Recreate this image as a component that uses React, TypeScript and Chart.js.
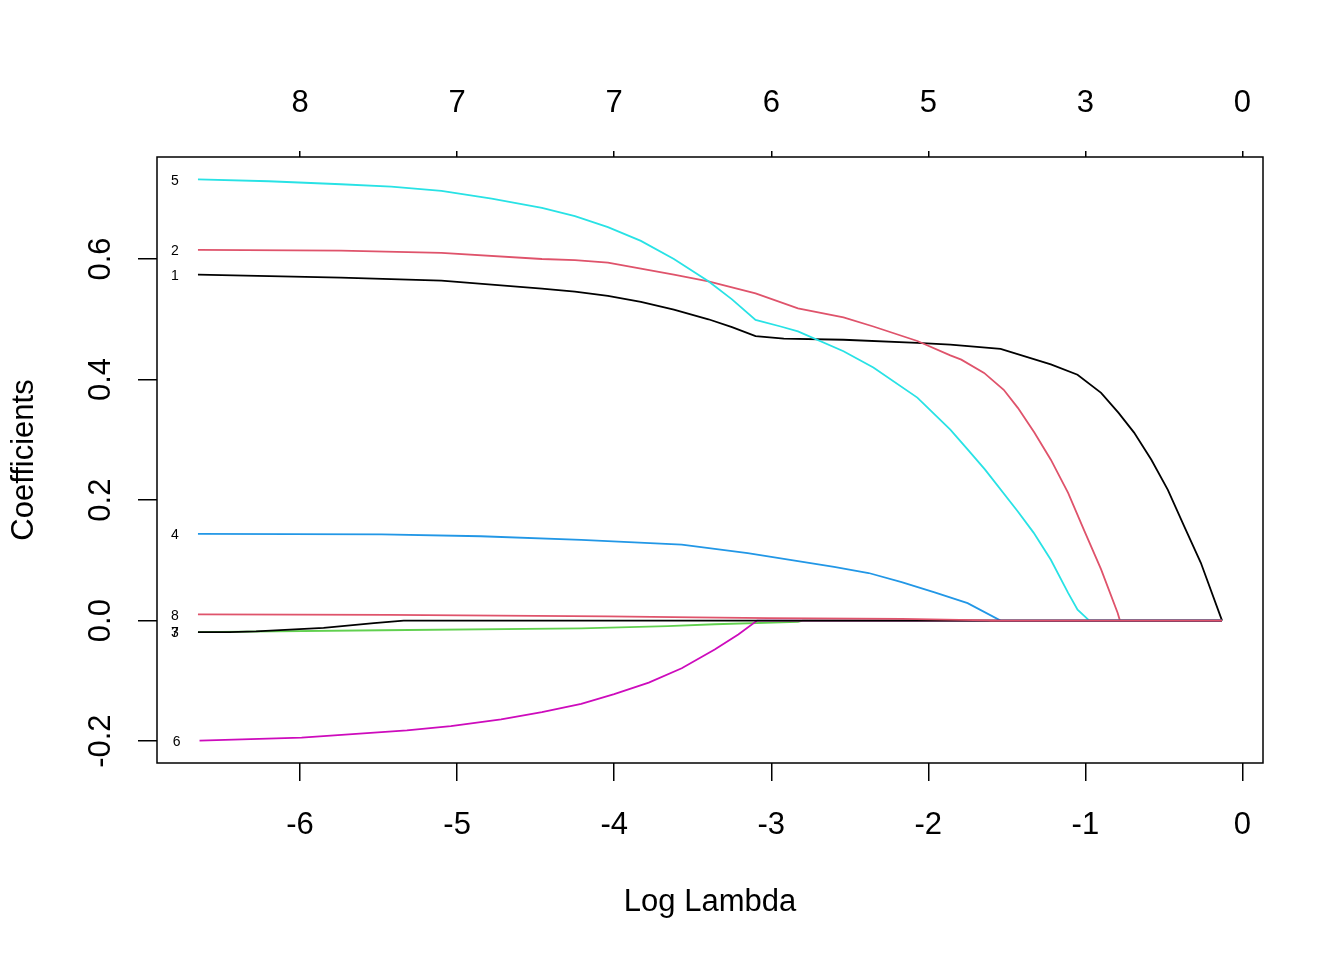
import React, { useEffect, useRef } from "react";
import { Chart, registerables } from "chart.js";

Chart.register(...registerables);

const FONT = "'Liberation Sans', Arial, sans-serif";

// Axis tick values / labels
const xTickValues = [-6, -5, -4, -3, -2, -1, 0];
const topTickLabels = ["8", "7", "7", "6", "5", "3", "0"];
const yTickValues = [-0.2, 0, 0.2, 0.4, 0.6];

const seriesNames = ["1", "2", "3", "4", "5", "6", "7", "8"];
const seriesColors = ["#000000", "#DF536B", "#61D04F", "#2297E6", "#28E2E5", "#CD0BBC", "#000000", "#DF536B"];

// Coefficient paths (log lambda, coefficient)
const lambda1 = [-6.65, -5.74, -5.10, -4.46, -4.25, -4.04, -3.83, -3.62, -3.40, -3.25, -3.10, -2.92, -2.54, -2.07, -1.86, -1.54, -1.22, -1.05, -0.90, -0.79, -0.69, -0.58, -0.475, -0.37, -0.265, -0.13];
const coef1 = [0.574, 0.569, 0.564, 0.551, 0.546, 0.539, 0.529, 0.516, 0.500, 0.487, 0.472, 0.468, 0.466, 0.461, 0.458, 0.451, 0.425, 0.408, 0.378, 0.345, 0.312, 0.267, 0.217, 0.156, 0.096, 0.0];

const lambda2 = [-6.65, -5.74, -5.10, -4.46, -4.25, -4.04, -3.83, -3.62, -3.40, -3.10, -2.83, -2.54, -2.35, -2.07, -1.86, -1.79, -1.645, -1.52, -1.43, -1.325, -1.22, -1.11, -1.01, -0.90, -0.795, -0.78, -0.13];
const coef2 = [0.615, 0.614, 0.610, 0.600, 0.598, 0.594, 0.584, 0.574, 0.563, 0.543, 0.518, 0.503, 0.488, 0.464, 0.440, 0.433, 0.411, 0.383, 0.353, 0.312, 0.267, 0.212, 0.151, 0.085, 0.013, 0.0, 0.0];

const lambda3 = [-6.65, -5.48, -4.21, -3.66, -3.36, -2.83, -2.80, -0.13];
const coef3 = [-0.019, -0.016, -0.013, -0.009, -0.006, -0.002, 0.0, 0.0];

const lambda4 = [-6.65, -5.48, -4.85, -4.21, -3.57, -3.15, -2.81, -2.60, -2.38, -2.17, -1.96, -1.75, -1.54, -0.13];
const coef4 = [0.144, 0.143, 0.140, 0.134, 0.126, 0.112, 0.098, 0.089, 0.079, 0.064, 0.047, 0.029, 0.0, 0.0];

const lambda5 = [-6.65, -6.20, -5.74, -5.42, -5.10, -4.78, -4.46, -4.25, -4.04, -3.83, -3.62, -3.40, -3.25, -3.10, -2.94, -2.83, -2.54, -2.35, -2.07, -1.86, -1.75, -1.64, -1.43, -1.33, -1.22, -1.11, -1.05, -0.975, -0.13];
const coef5 = [0.732, 0.729, 0.724, 0.720, 0.713, 0.700, 0.685, 0.671, 0.653, 0.630, 0.600, 0.563, 0.533, 0.499, 0.488, 0.480, 0.447, 0.420, 0.370, 0.317, 0.284, 0.251, 0.181, 0.146, 0.101, 0.046, 0.018, 0.0, 0.0];

const lambda6 = [-6.64, -5.99, -5.32, -5.04, -4.72, -4.46, -4.21, -4.00, -3.78, -3.57, -3.36, -3.21, -3.09, -0.13];
const coef6 = [-0.199, -0.194, -0.182, -0.175, -0.164, -0.152, -0.138, -0.122, -0.103, -0.079, -0.048, -0.023, 0.0, 0.0];

const lambda7 = [-6.65, -6.45, -6.28, -5.85, -5.53, -5.34, -0.13];
const coef7 = [-0.019, -0.019, -0.018, -0.012, -0.004, 0.0, 0.0];

const lambda8 = [-6.65, -5.43, -4.04, -3.48, -3.02, -2.17, -1.62, -1.60, -0.13];
const coef8 = [0.0105, 0.0095, 0.007, 0.0055, 0.004, 0.003, 0.0005, 0.0, 0.0];

const seriesX = [lambda1, lambda2, lambda3, lambda4, lambda5, lambda6, lambda7, lambda8];
const seriesY = [coef1, coef2, coef3, coef4, coef5, coef6, coef7, coef8];

function paddedRange(arrs: number[][]) {
  const all = arrs.flat();
  const lo = Math.min(...all);
  const hi = Math.max(...all);
  const pad = (hi - lo) * 0.04;
  return [lo - pad, hi + pad];
}

export default function App() {
  const canvasRef = useRef<HTMLCanvasElement | null>(null);

  useEffect(() => {
    const canvas = canvasRef.current;
    if (!canvas) return;
    const [xMin, xMax] = paddedRange(seriesX);
    const [yMin, yMax] = paddedRange(seriesY);

    const rPlot = {
      id: "rPlot",
      afterDraw(chart: any) {
        const { ctx, chartArea: a, scales } = chart;
        ctx.save();
        ctx.strokeStyle = "#000";
        ctx.lineWidth = 1.5;
        ctx.strokeRect(a.left, a.top, a.right - a.left, a.bottom - a.top);

        ctx.fillStyle = "#000";
        ctx.textAlign = "center";
        ctx.textBaseline = "middle";
        ctx.font = `31px ${FONT}`;
        for (const v of yTickValues) {
          const y = scales.y.getPixelForValue(v);
          ctx.save();
          ctx.translate(a.left - 56, y);
          ctx.rotate(-Math.PI / 2);
          ctx.fillText(v.toFixed(1), 0, 0);
          ctx.restore();
        }
        ctx.fillText("Log Lambda", (a.left + a.right) / 2, a.bottom + 139);
        ctx.save();
        ctx.translate(a.left - 133, (a.top + a.bottom) / 2);
        ctx.rotate(-Math.PI / 2);
        ctx.fillText("Coefficients", 0, 0);
        ctx.restore();

        ctx.font = `14px ${FONT}`;
        seriesNames.forEach((name, i) => {
          const x = scales.x.getPixelForValue(seriesX[i][0]) - 23;
          const y = scales.y.getPixelForValue(seriesY[i][0]) + 1.5;
          ctx.fillText(name, x, y);
        });
        ctx.restore();
      },
    };

    const tickFont = { family: FONT, size: 31 };
    const chart = new Chart(canvas, {
      type: "line",
      data: {
        datasets: seriesNames.map((name, i) => ({
          label: name,
          data: seriesX[i].map((x, j) => ({ x, y: seriesY[i][j] })),
          borderColor: seriesColors[i],
          backgroundColor: seriesColors[i],
          borderWidth: 1.8,
          pointRadius: 0,
          fill: false,
          tension: 0,
          order: 8 - i,
          xAxisID: "x",
          yAxisID: "y",
        })),
      },
      options: {
        responsive: false,
        animation: false,
        devicePixelRatio: 1,
        layout: { padding: { left: 0, right: 81, top: 0, bottom: 0 } },
        plugins: {
          legend: { display: false },
          tooltip: { enabled: false },
          title: { display: false },
        },
        scales: {
          x: {
            type: "linear",
            position: "bottom",
            min: xMin,
            max: xMax,
            afterBuildTicks: (s: any) => {
              s.ticks = xTickValues.map((v) => ({ value: v }));
            },
            afterFit: (s: any) => {
              s.height = 197;
            },
            border: { display: false },
            grid: { drawOnChartArea: false, drawTicks: true, tickLength: 18, color: "#000", lineWidth: 1.5 },
            ticks: {
              color: "#000",
              font: tickFont,
              padding: 26,
              maxRotation: 0,
              minRotation: 0,
              autoSkip: false,
              callback: (v: any) => String(v),
            },
          },
          x2: {
            type: "linear",
            position: "top",
            min: xMin,
            max: xMax,
            afterBuildTicks: (s: any) => {
              s.ticks = xTickValues.map((v) => ({ value: v }));
            },
            afterFit: (s: any) => {
              s.height = 157;
            },
            border: { display: false },
            grid: { drawOnChartArea: false, drawTicks: true, tickLength: 6, color: "#000", lineWidth: 1.5 },
            ticks: {
              color: "#000",
              font: tickFont,
              padding: 29,
              maxRotation: 0,
              minRotation: 0,
              autoSkip: false,
              callback: (_v: any, i: number) => topTickLabels[i],
            },
          },
          y: {
            type: "linear",
            position: "left",
            min: yMin,
            max: yMax,
            afterBuildTicks: (s: any) => {
              s.ticks = yTickValues.map((v) => ({ value: v }));
            },
            afterFit: (s: any) => {
              s.width = 157;
            },
            border: { display: false },
            grid: { drawOnChartArea: false, drawTicks: true, tickLength: 19, color: "#000", lineWidth: 1.5 },
            ticks: { display: false },
          },
        },
      } as any,
      plugins: [rPlot],
    });
    return () => chart.destroy();
  }, []);

  return (
    <div style={{ position: "fixed", left: 0, top: 0, width: 1344, height: 960, background: "#fff" }}>
      <canvas ref={canvasRef} width={1344} height={960} style={{ display: "block" }} />
    </div>
  );
}
